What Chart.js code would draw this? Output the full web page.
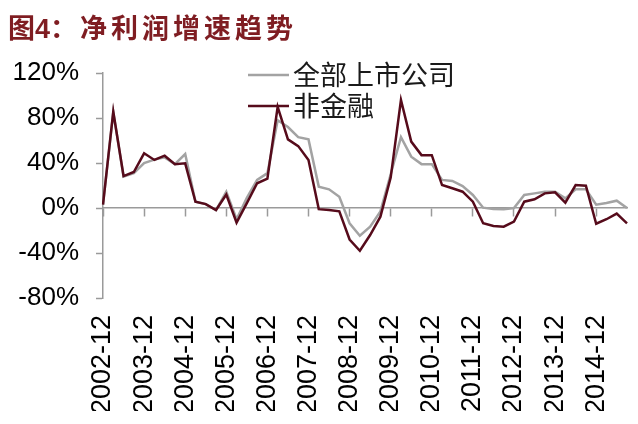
<!DOCTYPE html>
<html>
<head>
<meta charset="utf-8">
<script src="https://cdn.jsdelivr.net/npm/chart.js@4"></script>
<style>
  html, body { margin: 0; padding: 0; background: #fff; }
  #wrap { position: relative; width: 638px; height: 424px; }
  #titulo {
    position: absolute; left: 8px; top: 7px;
    font-family: "Noto Sans CJK SC", sans-serif; font-weight: 700;
    font-size: 27px; color: #7f1d22; white-space: nowrap;
  }
  #titulo .num { font-family: "Liberation Sans", Arial, sans-serif; }
  #titulo .txt { letter-spacing: 4px; margin-left: 3px; }
</style>
</head>
<body>
<div id="wrap">
  <canvas id="grafico" width="638" height="424"></canvas>
  <div id="titulo">图<span class="num">4</span>：<span class="txt">净利润增速趋势</span></div>
</div>
<script>
// trimestres 2002-12 .. 2015-09
var trimestres = [
  "2002-12","2003-03","2003-06","2003-09","2003-12","2004-03","2004-06","2004-09",
  "2004-12","2005-03","2005-06","2005-09","2005-12","2006-03","2006-06","2006-09",
  "2006-12","2007-03","2007-06","2007-09","2007-12","2008-03","2008-06","2008-09",
  "2008-12","2009-03","2009-06","2009-09","2009-12","2010-03","2010-06","2010-09",
  "2010-12","2011-03","2011-06","2011-09","2011-12","2012-03","2012-06","2012-09",
  "2012-12","2013-03","2013-06","2013-09","2013-12","2014-03","2014-06","2014-09",
  "2014-12","2015-03","2015-06","2015-09"
];

// 全部上市公司 (%)
var todas = [
  3, 85, 28, 31, 40, 43, 45, 39,
  48, 5.6, 3.5, -1.8, 14.5, -10, 9, 25,
  31, 78, 72, 63, 61, 19, 16.6, 10,
  -13.6, -24.6, -16.6, -3, 30, 63, 45.6, 39,
  39, 25, 24, 19.5, 11.6, 0.3, -1, -1.2,
  0, 11.6, 13, 14.5, 14.5, 8.6, 16.6, 16.6,
  3, 4.5, 6.5, 0
];

// 非金融 (%)
var noFinanciero = [
  3, 85.6, 28.4, 32, 48.6, 42.7, 46.5, 39,
  39.7, 5.6, 3.5, -1.8, 12, -13, 4.4, 22,
  26, 90, 61, 55, 42.7, -1, -1.8, -3,
  -28, -38, -24, -7.7, 27, 96, 59, 47,
  47, 20.4, 17.5, 14.5, 5.6, -13.6, -16, -16.6,
  -12, 5.6, 7.7, 13, 14, 4.7, 20.4, 19.8,
  -14, -10, -5, -13.6
];

var ticksY = [-80, -40, 0, 40, 80, 120];

var colorGris = "#a3a3a3";
var colorOscuro = "#560b1b";
var colorEje = "#9a9a9a";

// leyenda dentro del area del grafico
var leyendaPlugin = {
  id: "leyenda",
  afterDraw: function(chart) {
    var ctx = chart.ctx;
    var a = chart.chartArea;
    var items = [chart.data.datasets[0], chart.data.datasets[1]];
    ctx.save();
    ctx.font = "27px 'Noto Sans CJK SC'";
    ctx.textBaseline = "middle";
    for (var i = 0; i < items.length; i++) {
      var y = a.top + 2 + i * 31;
      ctx.strokeStyle = items[i].borderColor;
      ctx.lineWidth = 2.5;
      ctx.beginPath();
      ctx.moveTo(a.left + 145, y);
      ctx.lineTo(a.left + 186, y);
      ctx.stroke();
      ctx.fillStyle = "#1a1a1a";
      ctx.fillText(items[i].label, a.left + 190, y);
    }
    ctx.restore();
  }
};

// quitar el relleno automatico de los ejes x
function sinRelleno(s) {
  s.paddingLeft = 0;
  s.paddingRight = 0;
}

new Chart(document.getElementById("grafico"), {
  type: "line",
  data: {
    labels: trimestres,
    datasets: [{
      label: "全部上市公司",
      data: todas,
      borderColor: colorGris,
      borderWidth: 2.5,
      pointRadius: 0,
      fill: false,
      order: 2,
      xAxisID: "x",
      yAxisID: "y"
    }, {
      label: "非金融",
      data: noFinanciero,
      borderColor: colorOscuro,
      borderWidth: 2.5,
      pointRadius: 0,
      fill: false,
      order: 1,
      xAxisID: "x",
      yAxisID: "y"
    }]
  },
  options: {
    responsive: false,
    animation: false,
    layout: { padding: { left: 8, right: 11, top: 73, bottom: 13 } },
    plugins: {
      legend: { display: false },
      title: { display: false },
      tooltip: { enabled: false }
    },
    scales: {
      x: {
        type: "category",
        position: { y: 0 },
        offset: false,
        border: { display: true, color: colorEje, width: 1.5 },
        grid: {
          drawOnChartArea: false,
          drawTicks: true,
          tickLength: 8,
          tickWidth: 1.5,
          tickColor: function(c) { return c.index % 4 === 0 ? colorEje : "rgba(0,0,0,0)"; }
        },
        ticks: { display: false, autoSkip: false },
        afterFit: sinRelleno
      },
      x2: {
        type: "category",
        axis: "x",
        position: "bottom",
        offset: false,
        border: { display: false },
        grid: { display: false, drawTicks: false },
        ticks: {
          autoSkip: false,
          minRotation: 90,
          maxRotation: 90,
          padding: 17,
          color: "#000",
          font: { family: "Liberation Sans", size: 27 },
          callback: function(v, i) {
            var et = trimestres[i];
            return et.slice(5) === "12" ? et : "";
          }
        },
        afterFit: function(s) {
          sinRelleno(s);
          s.height = 113;
        }
      },
      y: {
        min: -80,
        max: 120,
        afterBuildTicks: function(s) {
          s.ticks = ticksY.map(function(v) { return { value: v }; });
        },
        afterFit: function(s) { s.width = 95; },
        border: { display: true, color: colorEje, width: 1.5 },
        grid: {
          drawOnChartArea: false,
          drawTicks: true,
          tickLength: 7,
          tickWidth: 1.5,
          tickColor: colorEje
        },
        ticks: {
          padding: 17,
          color: "#000",
          font: { family: "Liberation Sans", size: 26 },
          callback: function(v) { return v + "%"; }
        }
      }
    }
  },
  plugins: [leyendaPlugin]
});
</script>
</body>
</html>
